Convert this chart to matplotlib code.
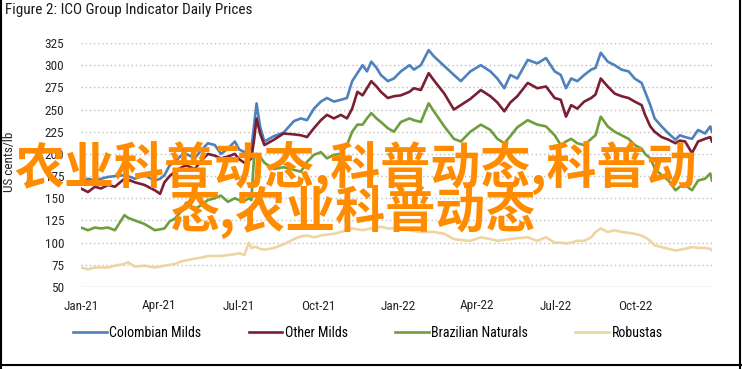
import pandas as pd
import matplotlib
matplotlib.use("Agg")
from matplotlib import pyplot as plt
from matplotlib import font_manager
import matplotlib.dates as mdates
from matplotlib.lines import Line2D

# données (US cents/lb)
dates = [
    "2021-01-01", "2021-01-09", "2021-01-17", "2021-01-24", "2021-02-01", "2021-02-09",
    "2021-02-20", "2021-02-24", "2021-03-04", "2021-03-15", "2021-03-27", "2021-04-02",
    "2021-04-07", "2021-04-13", "2021-04-19", "2021-04-27", "2021-05-02", "2021-05-12",
    "2021-05-19", "2021-05-27", "2021-06-04", "2021-06-11", "2021-06-19", "2021-06-27",
    "2021-07-02", "2021-07-08", "2021-07-13", "2021-07-16", "2021-07-19", "2021-07-22",
    "2021-07-26", "2021-07-31", "2021-08-11", "2021-08-22", "2021-09-03", "2021-09-11",
    "2021-09-18", "2021-09-26", "2021-10-04", "2021-10-11", "2021-10-19", "2021-10-27",
    "2021-11-03", "2021-11-09", "2021-11-15", "2021-11-21", "2021-11-26", "2021-12-01",
    "2021-12-07", "2021-12-12", "2021-12-20", "2021-12-27", "2022-01-04", "2022-01-14",
    "2022-01-19", "2022-01-27", "2022-02-05", "2022-02-11", "2022-02-23", "2022-03-06",
    "2022-03-14", "2022-03-25", "2022-04-06", "2022-04-17", "2022-04-25", "2022-05-03",
    "2022-05-10", "2022-05-18", "2022-05-30", "2022-06-10", "2022-06-20", "2022-06-30",
    "2022-07-07", "2022-07-13", "2022-07-19", "2022-07-26", "2022-08-03", "2022-08-11",
    "2022-08-16", "2022-08-22", "2022-08-30", "2022-09-07", "2022-09-15", "2022-09-23",
    "2022-09-30", "2022-10-08", "2022-10-12", "2022-10-18", "2022-10-23", "2022-10-31",
    "2022-11-08", "2022-11-16", "2022-11-21", "2022-11-27", "2022-12-05", "2022-12-12",
    "2022-12-20", "2022-12-26", "2022-12-28",
]

colombian_milds = [
    168, 172, 170, 172, 174, 175, 176, 175, 172, 176, 170, 172,
    176, 187, 191, 199, 200, 195, 204, 212, 210, 200, 206, 214,
    205, 202, 204, 206, 231, 257, 231, 214, 220, 224, 237, 240,
    238, 251, 259, 263, 259, 261, 263, 282, 291, 300, 293, 304,
    297, 289, 282, 285, 293, 300, 295, 300, 317, 310, 299, 289,
    282, 293, 300, 293, 285, 274, 289, 285, 306, 302, 308, 293,
    289, 274, 285, 282, 289, 295, 297, 314, 304, 300, 295, 293,
    285, 280, 270, 255, 240, 231, 223, 216, 221, 219, 217, 227,
    223, 231, 225,
]

other_milds = [
    161, 157, 163, 161, 165, 163, 172, 171, 168, 165, 159, 155,
    168, 175, 180, 185, 187, 183, 192, 200, 198, 195, 197, 200,
    194, 190, 192, 195, 215, 240, 223, 210, 216, 223, 222, 221,
    219, 229, 238, 244, 240, 244, 240, 251, 270, 266, 274, 282,
    276, 270, 263, 265, 266, 270, 274, 272, 291, 283, 268, 250,
    255, 262, 272, 265, 258, 248, 258, 265, 280, 274, 276, 263,
    261, 242, 255, 251, 259, 263, 267, 285, 276, 268, 265, 263,
    259, 255, 244, 231, 225, 219, 216, 212, 215, 214, 201, 214,
    217, 219, 214,
]

brazilian_naturals = [
    117, 114, 117, 116, 117, 114, 131, 128, 125, 121, 114, 115,
    116, 124, 127, 136, 145, 138, 142, 148, 150, 153, 146, 150,
    148, 147, 150, 148, 195, 200, 197, 190, 183, 185, 182, 180,
    191, 199, 202, 195, 199, 200, 210, 225, 233, 233, 240, 246,
    240, 236, 229, 225, 236, 240, 238, 236, 257, 248, 231, 217,
    214, 225, 233, 227, 217, 212, 220, 230, 238, 233, 231, 221,
    210, 214, 217, 212, 210, 217, 221, 242, 231, 225, 221, 217,
    210, 206, 200, 195, 184, 176, 170, 159, 163, 165, 159, 170,
    172, 178, 170,
]

robustas = [
    72, 70, 72, 72, 72, 74, 76, 78, 73, 74, 72, 73,
    74, 75, 76, 79, 80, 82, 83, 85, 85, 85, 86, 87,
    88, 86, 100, 94, 95, 95, 93, 92, 94, 98, 104, 107,
    108, 106, 108, 109, 110, 112, 114, 116, 115, 114, 115, 116,
    117, 118, 116, 116, 115, 114, 113, 112, 112, 112, 110, 104,
    103, 102, 106, 104, 102, 103, 104, 105, 106, 102, 106, 100,
    100, 99, 100, 102, 102, 106, 112, 116, 112, 114, 112, 111,
    110, 108, 106, 102, 97, 95, 93, 91, 92, 93, 95, 94,
    94, 93, 91,
]

series_names = ["Colombian Milds", "Other Milds", "Brazilian Naturals", "Robustas"]
series_colors = ["#4F81BD", "#7A1E33", "#6F9E3E", "#EDD5A2"]
y_ticks = [50, 75, 100, 125, 150, 175, 200, 225, 250, 275, 300, 325]


# police étroite si dispo
def pick_font(names):
    dispo = {f.name for f in font_manager.fontManager.ttflist}
    for n in names:
        if n in dispo:
            return n
    return "DejaVu Sans"

narrow = pick_font(["Liberation Sans Narrow", "Roboto Condensed", "DejaVu Sans Condensed", "Liberation Sans"])
plt.rcParams["font.family"] = [narrow, "DejaVu Sans"]

x = pd.to_datetime(dates)

fig = plt.figure(figsize=(7.42, 3.69), dpi=100)
ax = fig.add_axes([81 / 742, 1 - 287 / 369, (712 - 81) / 742, (287 - 43) / 369])

# grille pointillée
for v in y_ticks[1:]:
    ax.axhline(v, color="#BFBFBF", lw=1.0, ls=(0, (1, 2)), zorder=0)
ax.axhline(50, color="#C8C8C8", lw=1.0, zorder=0)

all_series = [colombian_milds, other_milds, brazilian_naturals, robustas]
for vals, name, col in zip(all_series, series_names, series_colors):
    ax.plot(x, vals, color=col, lw=1.9, label=name, zorder=2)

ax.set_ylim(50, 325)
ax.set_xlim(pd.Timestamp("2021-01-01"), pd.Timestamp("2022-12-28"))
ax.set_yticks(y_ticks)
ax.xaxis.set_major_locator(mdates.MonthLocator(bymonth=[1, 4, 7, 10]))
ax.xaxis.set_major_formatter(mdates.DateFormatter("%b-%y"))
ax.tick_params(axis="both", length=0, labelsize=9.5, colors="#262626")
ax.tick_params(axis="y", pad=12)
ax.tick_params(axis="x", pad=9)
for s in ax.spines.values():
    s.set_visible(False)

fig.text(10 / 742, 1 - 162 / 369, "US cents/lb", rotation=90, ha="center", va="center",
         fontsize=9.5, color="#262626")
fig.text(5 / 742, 1 - 10 / 369, "Figure 2: ICO Group Indicator Daily Prices", ha="left", va="center",
         fontsize=11, color="#1A1A1A")

fig.legend(loc="center", bbox_to_anchor=(368 / 742, 1 - 333 / 369), ncol=4, frameon=False,
           fontsize=10, handlelength=2.4, handletextpad=0.2, columnspacing=3.4)

# cadre noir (gauche, droite, bas)
for xs, ys in [([0.0015, 0.0015], [0, 1]), ([0.997, 0.997], [0, 1]), ([0, 1], [1 - 365 / 369, 1 - 365 / 369])]:
    fig.add_artist(Line2D(xs, ys, transform=fig.transFigure, color="black", lw=1.5))

# texte en filigrane orange
cjk = ["Noto Sans CJK SC", "DejaVu Sans"]
fig.text(356 / 742, 1 - 168 / 369, "农业科普动态,科普动态,科普动", ha="center", va="center",
         fontsize=36, color="#FF8C00", family=cjk, weight="bold", zorder=10)
fig.text(352 / 742, 1 - 212 / 369, "态,农业科普动态", ha="center", va="center",
         fontsize=36, color="#FF8C00", family=cjk, weight="bold", zorder=10)

fig.savefig("out.png", dpi=100)
